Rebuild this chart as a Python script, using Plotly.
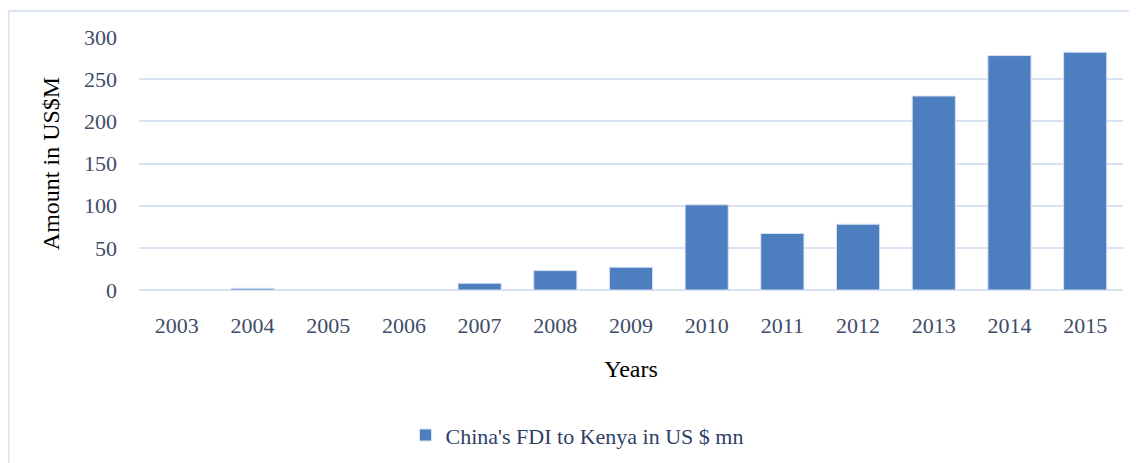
import plotly.graph_objects as go

years = ["2003", "2004", "2005", "2006", "2007", "2008", "2009",
         "2010", "2011", "2012", "2013", "2014", "2015"]
fdi_values = [0, 2, 0, 0, 8, 23, 27, 101, 67, 78, 230, 278, 282]
y_ticks = [0, 50, 100, 150, 200, 250, 300]
series_name = "China's FDI to Kenya in US $ mn"

OFF = 8  # page body margin
W, H = 1129, 455
L, R, T, B = 139 - OFF, 14, 37 - OFF, 172.5
pw = W - L - R
ph = H - T - B

def px_x(x):
    return (x - OFF - L) / pw

def px_y(y):
    return (H - B - (y - OFF)) / ph

font_family = "Liberation Serif, Times New Roman, serif"
tick_color = "#3e4c69"
grid_color = "#d9e2f3"

fig = go.Figure()
fig.add_trace(go.Bar(
    x=years, y=fdi_values, name=series_name,
    marker=dict(color="#4d7fc0", line=dict(color="#d6e1f2", width=1)),
    showlegend=True,
))

fig.update_layout(
    width=W, height=H,
    margin=dict(l=L, r=R, t=T, b=B, autoexpand=False),
    paper_bgcolor="white", plot_bgcolor="white",
    font=dict(family=font_family, size=22, color=tick_color),
    bargap=0.43,
    showlegend=True,
    legend=dict(orientation="h", x=px_x(577), xanchor="center",
                y=px_y(436), yanchor="middle",
                font=dict(family=font_family, size=22, color="#2e3f66"),
                itemwidth=30, bgcolor="rgba(0,0,0,0)"),
    xaxis=dict(
        type="category", showgrid=False, showline=False, zeroline=False,
        ticks="", ticklabelstandoff=20, automargin=False,
        tickfont=dict(family=font_family, size=22, color=tick_color),
        title=dict(text="Years", standoff=23,
                   font=dict(family=font_family, size=24, color="black")),
    ),
    yaxis=dict(
        range=[0, 300], tickvals=y_ticks, showgrid=True,
        gridcolor=grid_color, gridwidth=1.5, zeroline=True,
        zerolinecolor=grid_color, zerolinewidth=1.5, showline=False,
        ticks="", ticklabelstandoff=21, automargin=False,
        tickfont=dict(family=font_family, size=22, color=tick_color),
        title=dict(text="Amount in US$M", standoff=17,
                   font=dict(family=font_family, size=24, color="black")),
    ),
    shapes=[
        dict(type="line", xref="paper", yref="paper",
             x0=px_x(8.5), x1=px_x(1140), y0=px_y(11), y1=px_y(11),
             line=dict(color="#dae3f3", width=2)),
        dict(type="line", xref="paper", yref="paper",
             x0=px_x(8.5), x1=px_x(8.5), y0=px_y(11), y1=px_y(466),
             line=dict(color="#dae3f3", width=2)),
    ],
)

fig.write_html("out.html")
